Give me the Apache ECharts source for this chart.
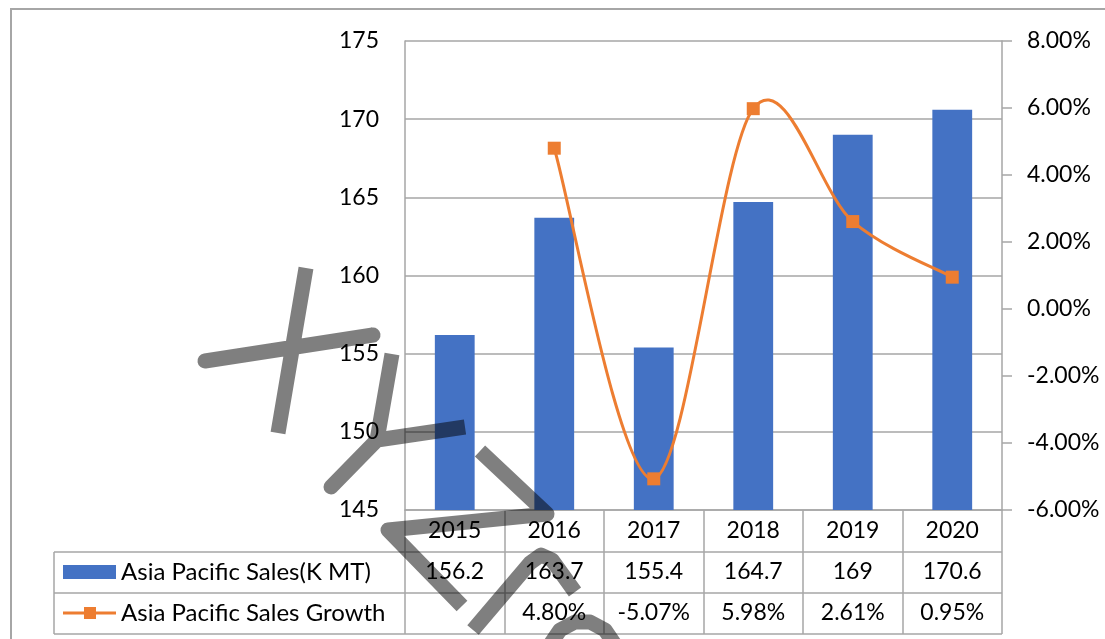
<!DOCTYPE html>
<html>
<head>
<meta charset="utf-8">
<script src="https://cdn.jsdelivr.net/npm/echarts@6/dist/echarts.min.js"></script>
<style>
  html, body { margin: 0; padding: 0; background: #fff; }
  #chart { width: 1105px; height: 639px; }
</style>
</head>
<body>
<div id="chart"></div>
<script>
// data
var years = ["2015", "2016", "2017", "2018", "2019", "2020"];
var salesName = "Asia Pacific Sales(K MT)";
var growthName = "Asia Pacific Sales Growth";
var sales = [156.2, 163.7, 155.4, 164.7, 169, 170.6];
var growth = [null, 4.80, -5.07, 5.98, 2.61, 0.95]; // percent

var gray = "#a6a6a6";
var font = "Lato";
var fs = 23;

var myChart = echarts.init(document.getElementById("chart"));

// table lines under the plot (grid is left 405, right 103 -> x 1002)
var tableLeft = 54, tableRight = 1002;
var rowLines = [552, 593, 634];

var markStyle = { fill: null, stroke: "rgba(0,0,0,0.5)", lineWidth: 15, lineJoin: "round", lineCap: "butt" };
// watermark scribble, each piece drawn in one stroke so crossings do not darken
var scribble = [
  [[306, 268], [292.5, 347.5], [205, 361], [373, 335], [292.5, 347.5], [278, 433]],
  [[392, 354], [377, 440], [331, 487], [377, 440], [465, 427]],
  [[480, 451], [547, 514], [388, 530], [462, 606]],
  [[473, 630], [530, 563], [541, 555], [552, 560], [575, 592]],
  [[545, 652], [560, 630], [575, 622], [590, 622], [605, 630], [620, 652]]
];

var graphics = [
  // outer frame
  { type: "rect", shape: { x: 11, y: 9, width: 1200, height: 700 },
    style: { fill: null, stroke: gray, lineWidth: 2 }, silent: true },
  { type: "line", shape: { x1: tableLeft, y1: 552, x2: tableLeft, y2: 634 },
    style: { stroke: gray, lineWidth: 1.5 } },
  // legend keys inside the table
  { type: "rect", shape: { x: 63, y: 565, width: 53, height: 14 }, style: { fill: "#4472C4" } },
  { type: "text", style: { x: 121, y: 572, text: salesName, font: "24px " + font,
    fill: "#000", verticalAlign: "middle" } },
  { type: "line", shape: { x1: 63, y1: 613, x2: 116, y2: 613 }, style: { stroke: "#ED7D31", lineWidth: 3 } },
  { type: "rect", shape: { x: 84, y: 607, width: 12, height: 12 }, style: { fill: "#ED7D31" } },
  { type: "text", style: { x: 121, y: 613, text: growthName, font: "24px " + font,
    fill: "#000", verticalAlign: "middle" } }
];
rowLines.forEach(function (y) {
  graphics.push({ type: "line", shape: { x1: tableLeft, y1: y, x2: tableRight, y2: y },
    style: { stroke: gray, lineWidth: 1.5 } });
});
scribble.forEach(function (pts) {
  graphics.push({ type: "polyline", z: 100, silent: true, shape: { points: pts }, style: markStyle });
});

// Excel-like smoothed line (Catmull-Rom), points placed by the axes
function renderGrowthCurve(params, api) {
  var pts = [];
  growth.forEach(function (v, i) {
    if (v != null) pts.push(api.coord([i, v]));
  });
  var d = "M" + pts[0][0] + "," + pts[0][1];
  for (var k = 0; k < pts.length - 1; k++) {
    var p0 = pts[Math.max(k - 1, 0)], p1 = pts[k], p2 = pts[k + 1], p3 = pts[Math.min(k + 2, pts.length - 1)];
    var c1x = p1[0] + (p2[0] - p0[0]) / 6, c1y = p1[1] + (p2[1] - p0[1]) / 6;
    var c2x = p2[0] - (p3[0] - p1[0]) / 6, c2y = p2[1] - (p3[1] - p1[1]) / 6;
    d += " C" + c1x + "," + c1y + " " + c2x + "," + c2y + " " + p2[0] + "," + p2[1];
  }
  return { type: "path", shape: { pathData: d },
    style: { fill: "none", stroke: "#ED7D31", lineWidth: 3 } };
}

var option = {
  animation: false,
  backgroundColor: "#fff",
  textStyle: { fontFamily: font },
  grid: { left: 405, right: 103, top: 41, bottom: 129 },
  xAxis: [
    {
      type: "category",
      data: years,
      axisLine: { onZero: false, lineStyle: { color: gray, width: 1.5 } },
      axisTick: { show: true, length: 124, lineStyle: { color: gray, width: 1.5 } },
      axisLabel: { color: "#000", fontSize: fs, margin: 9, fontFamily: font },
    },
    {
      type: "category",
      data: years,
      position: "bottom",
      offset: 41,
      axisLine: { show: false, onZero: false },
      axisTick: { show: false },
      axisLabel: { color: "#000", fontSize: fs, margin: 9, fontFamily: font,
        formatter: function (v, i) { return String(sales[i]); } },
    },
    {
      type: "category",
      data: years,
      position: "bottom",
      offset: 82,
      axisLine: { show: false, onZero: false },
      axisTick: { show: false },
      axisLabel: { color: "#000", fontSize: fs, margin: 9, fontFamily: font,
        formatter: function (v, i) { return growth[i] == null ? "" : growth[i].toFixed(2) + "%"; } },
    },
  ],
  yAxis: [
    {
      type: "value",
      min: 145,
      max: 175,
      interval: 5,
      axisLine: { show: true, lineStyle: { color: gray, width: 1.5 } },
      axisTick: { show: false },
      splitLine: { lineStyle: { color: gray, width: 1.5 } },
      axisLabel: { color: "#000", fontSize: fs, margin: 26, fontFamily: font },
    },
    {
      type: "value",
      min: -6,
      max: 8,
      interval: 2,
      position: "right",
      axisLine: { show: true, lineStyle: { color: gray, width: 1.5 } },
      axisTick: { show: true, length: 10, lineStyle: { color: gray, width: 1.5 } },
      splitLine: { show: false },
      axisLabel: { color: "#000", fontSize: fs, margin: 25, fontFamily: font,
        formatter: function (v) { return v.toFixed(2) + "%"; } },
    },
  ],
  series: [
    {
      name: salesName,
      type: "bar",
      data: sales,
      barCategoryGap: "60%",
      itemStyle: { color: "#4472C4" },
    },
    {
      name: growthName + " curve",
      type: "custom",
      xAxisIndex: 0,
      yAxisIndex: 1,
      data: [0],
      silent: true,
      clip: false,
      z: 4,
      renderItem: renderGrowthCurve,
    },
    {
      name: growthName,
      type: "line",
      yAxisIndex: 1,
      data: growth,
      symbol: "rect",
      symbolSize: 13,
      itemStyle: { color: "#ED7D31" },
      lineStyle: { opacity: 0 },
      z: 5,
    },
  ],
  graphic: graphics,
};

myChart.setOption(option, true);
</script>
</body>
</html>
